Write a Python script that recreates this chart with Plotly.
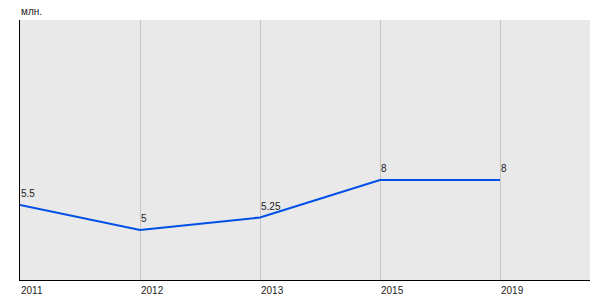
import plotly.graph_objects as go

years = ["2011", "2012", "2013", "2015", "2019"]
values = [5.5, 5.0, 5.25, 6.0, 6.0]
value_labels = ["5.5", "5", "5.25", "8", "8"]
unit_label = "млн."

xs = list(range(len(years)))

fig = go.Figure()
fig.add_trace(go.Scatter(
    x=xs, y=values, mode="lines",
    line=dict(color="#0050e6", width=2),
    hoverinfo="skip", showlegend=False,
))

annotations = []
for x, v, t in zip(xs, values, value_labels):
    annotations.append(dict(
        x=x, y=v, xref="x", yref="y", text=t, showarrow=False,
        xanchor="left", yanchor="bottom", yshift=4, xshift=-1,
        font=dict(family="Liberation Sans, Arial", size=10, color="#222"),
    ))
for x, t in zip(xs, years):
    annotations.append(dict(
        x=x, y=0, xref="x", yref="paper", text=t, showarrow=False,
        xanchor="left", yanchor="top", yshift=-3, xshift=-1,
        font=dict(family="Liberation Sans, Arial", size=10, color="#222"),
    ))
annotations.append(dict(
    x=0, y=1, xref="paper", yref="paper", text=unit_label, showarrow=False,
    xanchor="left", yanchor="bottom", yshift=1, xshift=-1,
    font=dict(family="Liberation Sans, Arial", size=10, color="#222"),
))

fig.update_layout(
    width=600, height=300,
    margin=dict(l=20, r=10, t=20, b=20),
    paper_bgcolor="white", plot_bgcolor="#e9e9e9",
    annotations=annotations,
    xaxis=dict(
        range=[0, 4.75], tickvals=xs, showticklabels=False,
        showgrid=True, gridcolor="#c4c4c4", gridwidth=1,
        zeroline=False, showline=True, linecolor="black", linewidth=1,
        ticks="", fixedrange=True,
    ),
    yaxis=dict(
        range=[4, 9.2], showticklabels=False, showgrid=False,
        zeroline=False, showline=True, linecolor="black", linewidth=1,
        ticks="", fixedrange=True,
    ),
)

fig.write_html("out.html")
